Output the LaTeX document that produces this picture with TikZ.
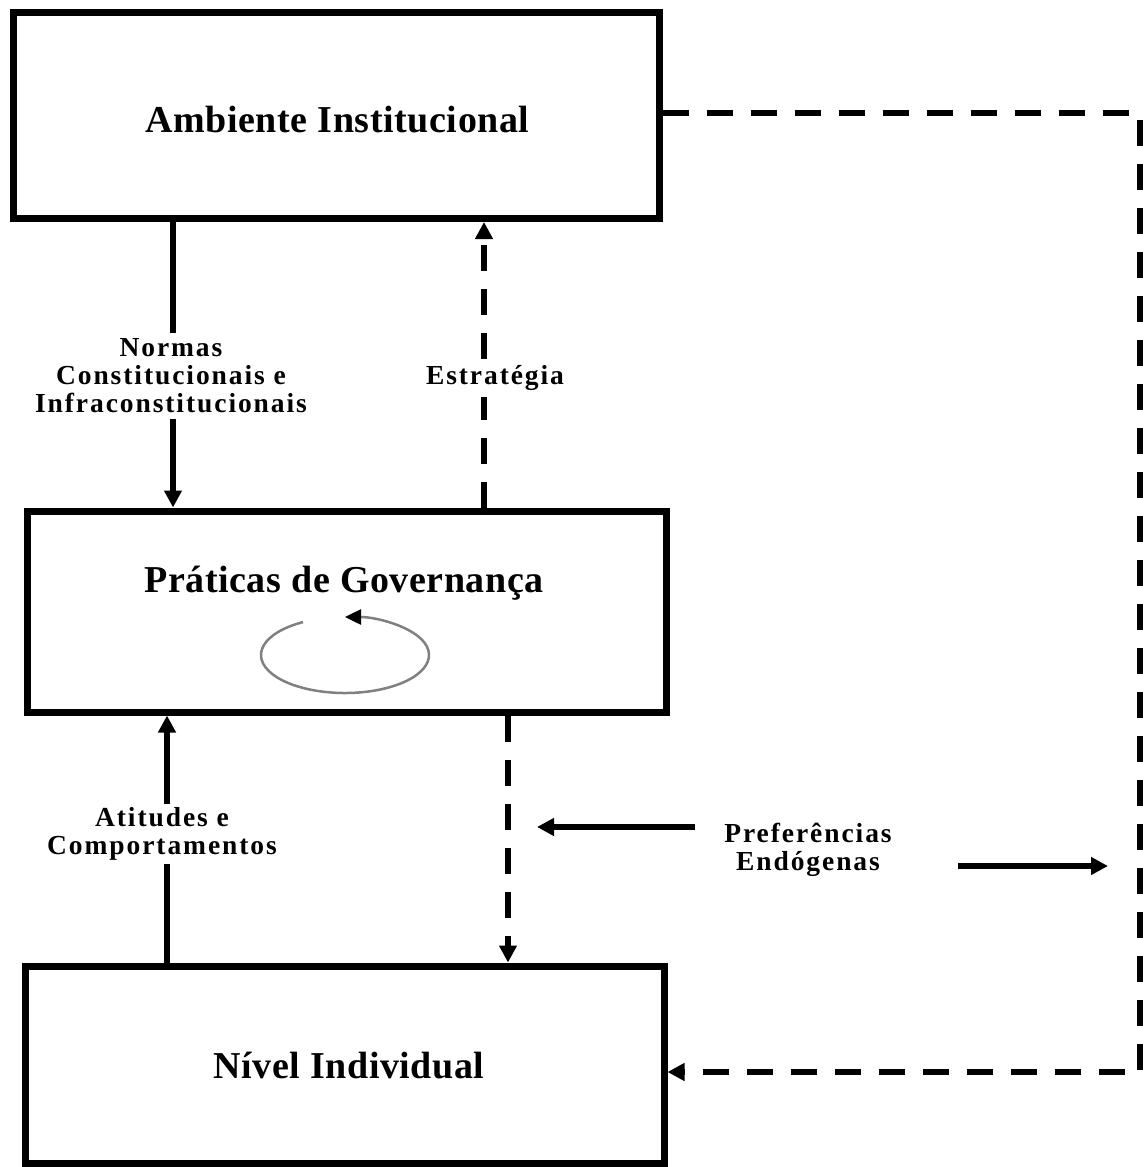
\documentclass[tikz,border=0pt]{standalone}
\usepackage{fontspec}
\setmainfont{Liberation Serif}
\newfontfamily\lblfont{Liberation Serif}[LetterSpace=7]
\newfontfamily\ttlfont{Liberation Serif}[LetterSpace=1.5]
\usetikzlibrary{arrows.meta}
\begin{document}
\begin{tikzpicture}[x=1pt,y=-1pt,
  box/.style={draw, line width=7pt, inner sep=0pt},
  title/.style={font=\ttlfont\bfseries\fontsize{38}{40}\selectfont, inner sep=0pt},
  lbl/.style={font=\lblfont\bfseries\fontsize{27.5}{28}\selectfont, align=center, inner sep=6pt},
  conn/.style={line width=5.5pt},
  dconn/.style={line width=5.5pt, dash pattern=on 26pt off 18pt, line join=miter},
  tip/.style={-{Triangle[length=17pt,width=17pt]}}]
\useasboundingbox (0,0) rectangle (1145,1167);

% boxes
\node[box, minimum width=645.5pt, minimum height=206pt] (amb) at (336.25,115.5) {};
\node[box, minimum width=639pt, minimum height=201pt] (prat) at (346.5,611.5) {};
\node[box, minimum width=639pt, minimum height=197pt] (ind) at (344.5,1064.5) {};

% titles
\node[title, anchor=base] (tamb) at (337.5,132) {Ambiente Institucional};
\node[title, anchor=base] (tprat) at (344,592) {Práticas de Governança};
\node[title, anchor=base] (tind) at (349,1078) {Nível Individual};

% labels
\node[lbl] (normas) at (171,376) {Normas\\Constitucionais e\\Infraconstitucionais};
\node[lbl] (estr) at (495,378) {Estratégia};
\node[lbl, inner sep=3pt] (atit) at (162,834) {Atitudes e\\Comportamentos};
\node[lbl] (pref) at (808,850) {Preferências\\Endógenas};

% coordinates
\coordinate (xn) at (173,0);
\coordinate (xe) at (484,0);
\coordinate (xa) at (167,0);
\coordinate (xd) at (508,0);
\coordinate (ytop) at (0,113);
\coordinate (ybot) at (0,1072);
\coordinate (c1) at (1140,113);
\coordinate (c2) at (1140,1072);
\coordinate (pa1) at (695,827);
\coordinate (pa2) at (537,827);
\coordinate (pb1) at (958,866);
\coordinate (pb2) at (1108,866);
\coordinate (loopc) at (345,655);

% connectors
\draw[conn] (amb.south -| xn) -- (normas.north -| xn);
\draw[conn, tip] (normas.south -| xn) -- (prat.north -| xn);

\draw[dconn] (prat.north -| xe) -- (estr.south -| xe);
\draw[dconn, tip] (estr.north -| xe) -- (amb.south -| xe);

\draw[conn] (ind.north -| xa) -- (atit.south -| xa);
\draw[conn, tip] (atit.north -| xa) -- (prat.south -| xa);

\draw[dconn, tip] (prat.south -| xd) -- (ind.north -| xd);

\draw[conn, tip] (pa1) -- (pa2);
\draw[conn, tip] (pb1) -- (pb2);

\draw[dconn, tip] (amb.east |- ytop) -- (c1) -- (c2) -- (ind.east |- ybot);

% rotating loop
\draw[gray, line width=2.5pt, -{Triangle[length=16pt,width=15pt,color=black]}]
  ([shift={(240:84 and 38)}]loopc) arc[start angle=240, end angle=-90, x radius=84, y radius=38];
\end{tikzpicture}
\end{document}
